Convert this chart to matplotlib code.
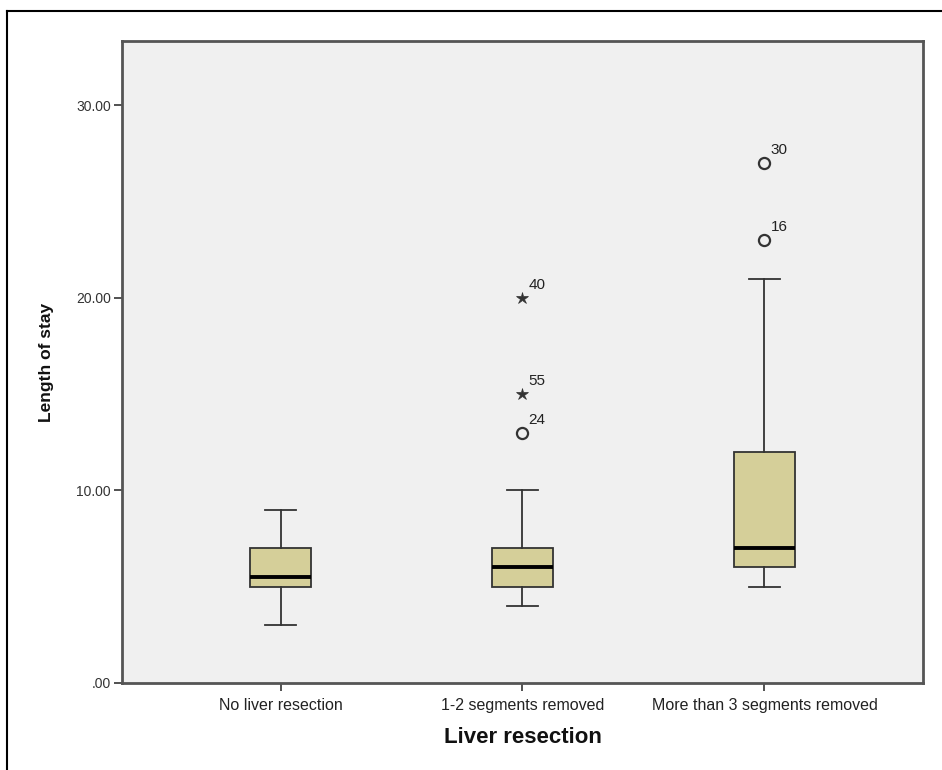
import matplotlib
matplotlib.use("Agg")
import matplotlib.pyplot as plt
from matplotlib.lines import Line2D

categories = ["No liver resection", "1-2 segments removed", "More than 3 segments removed"]
whisker_low = [3, 4, 5]
q1 = [5, 5, 6]
median = [5.5, 6, 7]
q3 = [7, 7, 12]
whisker_high = [9, 10, 21]
# outliers: (group index, value, case label, marker kind)
out_group = [1, 1, 1, 2, 2]
out_value = [13, 15, 20, 23, 27]
out_label = ["24", "55", "40", "16", "30"]
out_kind = ["o", "*", "*", "o", "o"]
yticks = [0, 10, 20, 30]
ytick_labels = [".00", "10.00", "20.00", "30.00"]

fam = "Liberation Sans"

fig = plt.figure(figsize=(9.42, 7.70), dpi=100)
ax = fig.add_axes([122/942, 1-683/770, (923-122)/942, (683-41)/770])
ax.set_facecolor("#F0F0F0")

stats = []
for i in range(3):
    stats.append(dict(med=median[i], q1=q1[i], q3=q3[i], whislo=whisker_low[i],
                      whishi=whisker_high[i], fliers=[], label=categories[i]))
positions = [1, 2, 3]
ax.bxp(stats, positions=positions, widths=0.25, patch_artist=True, showfliers=False,
       boxprops=dict(facecolor="#D5CF99", edgecolor="#333333", linewidth=1.3),
       medianprops=dict(color="black", linewidth=2.8),
       whiskerprops=dict(color="#333333", linewidth=1.3),
       capprops=dict(color="#333333", linewidth=1.3),
       capwidths=0.125)

for g, v, lab, k in zip(out_group, out_value, out_label, out_kind):
    x = positions[g]
    if k == "o":
        ax.plot(x, v, marker="o", ms=8, mfc="none", mec="#333333", mew=1.6, ls="none")
    else:
        ax.plot(x, v, marker="*", ms=9, mfc="#333333", mec="#333333", mew=0.5, ls="none")
    ax.annotate(lab, (x, v), xytext=(4.5, 6.5), textcoords="offset points",
                fontsize=11, color="#222222", fontfamily=fam)

ax.set_xlim(2 - 1.655, 2 + 1.655)
ax.set_ylim(0, 33.35)
ax.set_xticks(positions)
ax.set_xticklabels(categories, fontsize=11.5, fontfamily=fam, color="#222222")
ax.set_yticks(yticks)
ax.set_yticklabels(ytick_labels, fontsize=10, fontfamily=fam, color="#333333")
ax.tick_params(axis="both", direction="out", length=6, width=1.2, color="#333333", pad=2)
ax.tick_params(axis="x", pad=5)
for s in ax.spines.values():
    s.set_color("#555555")
    s.set_linewidth(2)

ax.set_xlabel("Liver resection", fontsize=16, fontweight="bold", fontfamily=fam,
              color="#111111", labelpad=10)
ax.set_ylabel("Length of stay", fontsize=12.5, fontweight="bold", fontfamily=fam,
              color="#111111", labelpad=16)

# outer frame (left and top lines)
fig.add_artist(Line2D([7/942, 7/942], [0, 1-11/770], color="black", lw=1.5, transform=fig.transFigure))
fig.add_artist(Line2D([7/942, 1], [1-11/770, 1-11/770], color="black", lw=1.5, transform=fig.transFigure))

fig.savefig("out.png", dpi=100, facecolor="white")
